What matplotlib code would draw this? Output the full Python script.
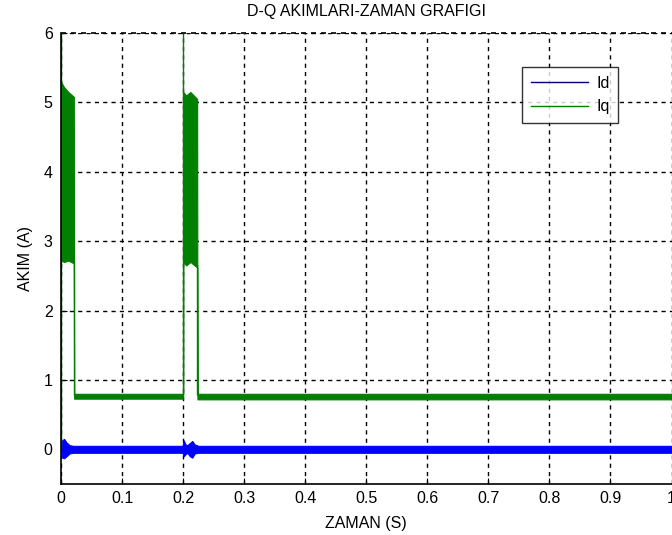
import matplotlib
matplotlib.use('Agg')
import matplotlib.pyplot as plt

# Iq band envelope (time, upper, lower)
iq_t = [0.0, 0.005, 0.012, 0.021, 0.0215, 0.2, 0.2001, 0.205, 0.212, 0.223, 0.2235, 1.0]
iq_hi = [5.3, 5.22, 5.15, 5.08, 0.80, 0.80, 5.15, 5.1, 5.15, 5.05, 0.80, 0.80]
iq_lo = [2.72, 2.7, 2.72, 2.68, 0.73, 0.73, 2.7, 2.65, 2.7, 2.62, 0.72, 0.72]
# Iq thin transition lines (spikes / drops)
iq_edges_t = [0.0, 0.021, 0.2, 0.2225]
iq_edges_lo = [0.0, 0.78, 0.78, 0.78]
iq_edges_hi = [6.2, 2.7, 6.2, 2.65]

# Id band envelope
id_t = [0.0, 0.002, 0.005, 0.009, 0.014, 0.02, 0.199, 0.201, 0.204, 0.207, 0.211, 0.215, 0.219, 0.225, 1.0]
id_hi = [0.02, 0.13, 0.15, 0.1, 0.06, 0.05, 0.05, 0.13, 0.07, 0.06, 0.09, 0.12, 0.07, 0.05, 0.05]
id_lo = [-0.02, -0.12, -0.13, -0.1, -0.06, -0.05, -0.05, -0.1, -0.07, -0.05, -0.1, -0.12, -0.06, -0.05, -0.05]

xticks = [0, 0.1, 0.2, 0.3, 0.4, 0.5, 0.6, 0.7, 0.8, 0.9, 1.0]
xlabels = ['0', '0.1', '0.2', '0.3', '0.4', '0.5', '0.6', '0.7', '0.8', '0.9', '1']
yticks = [0, 1, 2, 3, 4, 5, 6]

plt.rcParams['font.family'] = ['Liberation Sans', 'DejaVu Sans']
fs = 11.5

fig = plt.figure(figsize=(6.72, 5.35), dpi=100)
ax = fig.add_axes([61 / 672, 51 / 535, 610.5 / 672, 451 / 535])

blue = '#0000ff'
green = '#007f00'

ax.fill_between(id_t, id_lo, id_hi, color=blue, lw=0.8, zorder=3)
ax.fill_between(iq_t, iq_lo, iq_hi, color=green, lw=0.8, zorder=3)
ax.vlines(iq_edges_t, iq_edges_lo, iq_edges_hi, color=green, lw=1.0, zorder=3)

# legend proxies
ax.plot([], [], color='#000080', lw=1, label='Id')
ax.plot([], [], color=green, lw=1, label='Iq')

ax.set_xlim(0, 1.0)
ax.set_ylim(-0.5, 6)
ax.set_xticks(xticks)
ax.set_xticklabels(xlabels)
ax.set_yticks(yticks)
ax.tick_params(direction='in', length=4, labelsize=fs, colors='black', pad=5)
ax.tick_params(axis='y', pad=6)
ax.grid(True, color='black', linestyle=(0, (3, 3)), lw=1.0)
ax.axhline(6, color='black', linestyle=(0, (3, 3)), lw=1.2, zorder=4, clip_on=False)
ax.spines['top'].set_visible(False)
ax.spines['right'].set_visible(False)
for s in ['left', 'bottom']:
    ax.spines[s].set_linewidth(1.2)
    ax.spines[s].set_zorder(5)

ax.set_title('D-Q AKIMLARI-ZAMAN GRAFIGI', fontsize=fs, pad=12)
ax.set_xlabel('ZAMAN (S)', fontsize=fs, labelpad=7)
ax.set_ylabel('AKIM (A)', fontsize=fs, labelpad=8)

leg = ax.legend(loc='upper left', bbox_to_anchor=(0.755, 0.925), fontsize=fs,
                frameon=True, fancybox=False, edgecolor='black', handlelength=3.6,
                borderpad=0.55, labelspacing=0.55, handletextpad=0.5, borderaxespad=0)
leg.get_frame().set_linewidth(1.0)

fig.savefig('out.png', dpi=100)
